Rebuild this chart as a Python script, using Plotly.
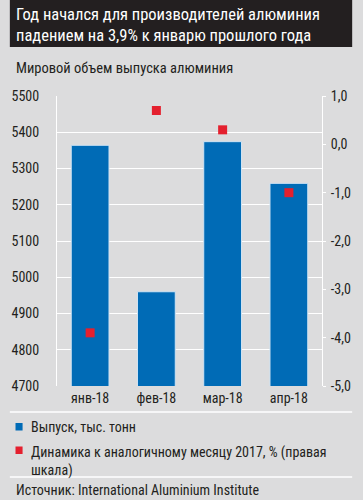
import plotly.graph_objects as go

months = ["янв-18", "фев-18", "мар-18", "апр-18"]
output_kt = [5364, 4960, 5374, 5259]
yoy_pct = [-3.9, 0.7, 0.3, -1.0]
left_ticks = [4700, 4800, 4900, 5000, 5100, 5200, 5300, 5400, 5500]
right_ticks = [-5, -4, -3, -2, -1, 0, 1]
right_labels = ["-5,0", "-4,0", "-3,0", "-2,0", "-1,0", "0,0", "1,0"]

title_lines = ["Год начался для производителей алюминия",
               "падением на 3,9% к январю прошлого года"]
subtitle = "Мировой объем выпуска алюминия"
legend_labels = ["Выпуск, тыс. тонн",
                 "Динамика к аналогичному месяцу 2017, % (правая<br>шкала)"]
source = "Источник: International Aluminium Institute"

W, H = 363, 500
L, R, T, B = 50, 32, 96, 114
PW, PH = W - L - R, H - T - B

FONT = "Liberation Sans Narrow, Arial Narrow, Roboto Condensed, DejaVu Sans Condensed, sans-serif"
DARK = "#231f20"
BG = "#dcdcdd"
BLUE = "#006bb6"
RED = "#e4202e"


def px(x):
    return (x - L) / PW


def py(y):
    return (H - B - y) / PH


fig = go.Figure()
fig.add_trace(go.Bar(x=months, y=output_kt, marker=dict(color=BLUE, line=dict(color="#cfe3f3", width=1)),
                     width=0.57, showlegend=False, yaxis="y", hoverinfo="skip"))
fig.add_trace(go.Scatter(x=months, y=yoy_pct, mode="markers",
                         marker=dict(symbol="square", size=9, color=RED),
                         showlegend=False, yaxis="y2", hoverinfo="skip"))

shapes = [
    dict(type="rect", xref="paper", yref="paper", x0=px(0), x1=px(W), y0=py(47), y1=py(0),
         fillcolor=DARK, line=dict(width=0), layer="below"),
    dict(type="line", xref="paper", yref="paper", x0=px(0), x1=px(W), y0=py(412), y1=py(412),
         line=dict(color="white", width=1.5)),
    dict(type="line", xref="paper", yref="paper", x0=px(0), x1=px(W), y0=py(477), y1=py(477),
         line=dict(color="white", width=1.5)),
    dict(type="rect", xref="paper", yref="paper", x0=px(6), x1=px(13.5), y0=py(430.5), y1=py(423),
         fillcolor=BLUE, line=dict(width=0)),
    dict(type="rect", xref="paper", yref="paper", x0=px(6), x1=px(13.5), y0=py(454), y1=py(446.5),
         fillcolor=RED, line=dict(width=0)),
]

annotations = [
    dict(text="<br>".join(title_lines), xref="paper", yref="paper", x=px(4), y=py(3),
         xanchor="left", yanchor="top", showarrow=False, align="left",
         font=dict(family=FONT, size=16.5, color="white")),
    dict(text=subtitle, xref="paper", yref="paper", x=px(4), y=py(68),
         xanchor="left", yanchor="middle", showarrow=False,
         font=dict(family=FONT, size=14.5, color=DARK)),
    dict(text=legend_labels[0], xref="paper", yref="paper", x=px(20), y=py(427),
         xanchor="left", yanchor="middle", showarrow=False,
         font=dict(family=FONT, size=14, color=DARK)),
    dict(text=legend_labels[1], xref="paper", yref="paper", x=px(20), y=py(442),
         xanchor="left", yanchor="top", showarrow=False, align="left",
         font=dict(family=FONT, size=14, color=DARK)),
    dict(text=source, xref="paper", yref="paper", x=px(4), y=py(490),
         xanchor="left", yanchor="middle", showarrow=False,
         font=dict(family=FONT, size=14, color=DARK)),
]

fig.update_layout(
    width=W, height=H,
    margin=dict(l=L, r=R, t=T, b=B),
    paper_bgcolor=BG, plot_bgcolor=BG,
    font=dict(family=FONT, size=14, color=DARK),
    showlegend=False,
    bargap=0.43,
    hovermode=False,
    shapes=shapes,
    annotations=annotations,
    xaxis=dict(showgrid=False, showline=False, ticks="", tickfont=dict(size=14),
               ticklabelstandoff=2),
    yaxis=dict(range=[4700, 5500], tickvals=left_ticks, showgrid=True, gridcolor="white", gridwidth=1,
               showline=True, linecolor="white", linewidth=1, ticks="", zeroline=False,
               ticklabelstandoff=14, tickfont=dict(size=14)),
    yaxis2=dict(range=[-5, 1], tickvals=right_ticks, ticktext=right_labels, overlaying="y", side="right",
                showgrid=False, showline=True, linecolor="white", linewidth=1, ticks="outside",
                ticklen=3, tickcolor="white", zeroline=False, tickfont=dict(size=14),
                ticklabelstandoff=2),
)

fig.write_html("out.html", config={"displayModeBar": False, "staticPlot": True},
               post_script="document.body.style.margin='0';document.body.style.overflow='hidden';")
